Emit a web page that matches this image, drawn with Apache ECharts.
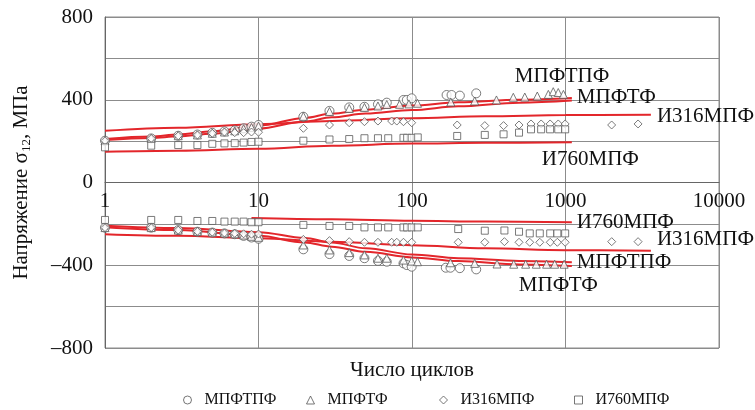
<!DOCTYPE html>
<html>
<head>
<meta charset="utf-8">
<script src="https://cdn.jsdelivr.net/npm/echarts@6/dist/echarts.min.js"></script>
<style>
  html, body { margin: 0; background: #fff; }
  #main { width: 755px; height: 410px; }
</style>
</head>
<body>
<div id="main"></div>
<script>
// [число циклов, σ12 МПа]
var mpftpfPts = [
  [1,202],[2,213],[3,226],[4,232],[5,240],[6,247],[7,252],[8,262],[9,270],[10,278],
  [19.6,318],[29,346],[39,363],[49,366],[60,378],[68.5,386],[88,399],[92.5,399],[99.5,407],
  [168,423],[181,423],[205,420],[262,431],
  [1,-218],[2,-218],[3,-230],[4,-238],[5,-242],[6,-246],[7,-250],[8,-258],[9,-266],[10,-272],
  [19.6,-323],[29,-346],[39,-355],[49,-366],[60,-379],[68.5,-383],[88,-391],[92.5,-399],[99.5,-407],
  [166,-412],[178,-412],[205,-414],[262,-420]
];
var mpftfPts = [
  [1,202],[2,213],[3,226],[4,230],[5,238],[6,244],[7,250],[8,260],[9,266],[10,273],
  [19.6,320],[29,343],[39,358],[49,363],[60,370],[68.5,377],[83,378],[95.5,380],[108.6,383],
  [179,389],[256,394],[355,399],[457,412],[543,413],[655,418],[773,426],[832,439],[897,435],[969,426],
  [1,-218],[2,-218],[3,-230],[4,-236],[5,-240],[6,-244],[7,-248],[8,-254],[9,-260],[10,-265],
  [19.6,-302],[29,-326],[39,-339],[49,-350],[60,-366],[68.5,-366],[88,-375],[99.5,-380],[108.6,-383],
  [178,-388],[256,-391],[358,-394],[460,-395],[550,-395],[645,-395],[753,-395],[850,-395],[980,-395]
];
var i316Pts = [
  [1,202],[2,213],[3,226],[4,230],[5,238],[6,244],[7,241],[8,241],[9,244],[10,243],
  [19.6,262],[29,278],[39,289],[49,294],[60,297],[73.7,297],[79.6,297],[88,294],[99.5,289],
  [197,278],[298,275],[395,275],[498,278],[596,283],[694,283],[794,283],[897,283],[995,283],[1998,278],[2970,283],
  [1,-218],[2,-218],[3,-230],[4,-236],[5,-240],[6,-244],[7,-246],[8,-248],[9,-250],[10,-249],
  [19.6,-275],[29,-281],[39,-286],[49,-289],[60,-289],[73.7,-289],[79.6,-289],[88,-289],[99.5,-289],
  [200,-289],[298,-289],[400,-286],[498,-289],[585,-289],[680,-289],[795,-289],[885,-289],[995,-289],[2000,-286],[2970,-286]
];
var i760Pts = [
  [1,170],[2,178],[3,181],[4,181],[5,187],[6,189],[7,190],[8,193],[9,196],[10,197],
  [19.6,202],[29,208],[39,210],[49,214],[60,214],[70,214],[88,216],[93,216],[99.5,216],[109,218],
  [197,225],[298,230],[395,233],[498,241],[596,257],[694,257],[794,257],[897,257],[995,257],
  [1,-181],[2,-181],[3,-181],[4,-186],[5,-186],[6,-189],[7,-189],[8,-189],[9,-192],[10,-192],
  [19.6,-205],[29,-210],[39,-210],[49,-217],[60,-217],[70,-217],[88,-217],[93,-217],[99.5,-217],[109,-217],
  [200,-225],[298,-233],[400,-232],[498,-238],[585,-246],[680,-246],[795,-246],[885,-246],[995,-246]
];

// аппроксимирующие кривые
var mpftpfFitUp = [[1,210],[2,222],[3,232],[5,248],[10,275],[20,312],[30,333],[50,352],[100,372],[200,388],[500,400],[1100,408]];
var mpftfFitUp = [[1,205],[2,215],[3,223],[5,236],[10,260],[20,295],[30,315],[50,333],[100,350],[200,368],[500,386],[1100,396]];
var i316FitUp = [[1,250],[3,265],[10,282],[30,297],[100,311],[300,320],[1000,326],[3600,328]];
var i760FitUp = [[1,149],[3,154],[10,163],[30,178],[100,188],[300,192],[1100,194]];
var mpftpfFitDown = [[1,-209],[3,-220],[10,-240],[20,-268],[30,-290],[50,-318],[100,-348],[200,-366],[500,-379],[1100,-386]];
var mpftfFitDown = [[1,-216],[3,-230],[10,-258],[20,-290],[30,-310],[50,-335],[100,-362],[200,-380],[500,-396],[1100,-404]];
var i316FitDown = [[1,-250],[3,-258],[10,-270],[30,-287],[100,-303],[300,-318],[1000,-327],[3600,-330]];
var i760FitDown = [[9,-172],[30,-178],[100,-185],[300,-189],[1100,-192]];

var seriesNames = ['МПФТПФ', 'МПФТФ', 'И316МПФ', 'И760МПФ'];
var yTicks = [-800, -400, 0, 400, 800];

var serif = '"Liberation Serif", "Times New Roman", serif';

var chart = echarts.init(document.getElementById('main'));

function pts(name, symbol, size, data) {
  return {
    name: name, type: 'scatter', symbol: symbol, symbolSize: size, data: data, z: 4,
    itemStyle: { color: '#fff', borderColor: '#5a5a5a', borderWidth: 1 }
  };
}

function fit(id, data, text, off) {
  return {
    name: id, type: 'line', data: data, smooth: 0.35, smoothMonotone: 'x', symbol: 'none', silent: true, z: 3,
    lineStyle: { color: '#e3262b', width: 2 },
    endLabel: {
      show: true, formatter: text, offset: off, distance: 8,
      color: '#111', fontFamily: serif, fontSize: 21
    }
  };
}

function legendAt(name, left) {
  return {
    data: [name], left: left, top: 392, itemWidth: 8, itemHeight: 8, padding: 0,
    itemStyle: { color: '#fff', borderColor: '#555', borderWidth: 1 },
    textStyle: { fontFamily: serif, fontSize: 16, color: '#111', padding: [0, 0, 0, 8] }
  };
}

var option = {
  animation: false,
  grid: { left: 105, right: 36, top: 17, bottom: 62, show: true, borderColor: '#8c8c8c', borderWidth: 1, outerBoundsMode: 'none' },
  legend: [
    legendAt(seriesNames[0], 183),
    legendAt(seriesNames[1], 306),
    legendAt(seriesNames[2], 439),
    legendAt(seriesNames[3], 574)
  ],
  xAxis: {
    type: 'log', logBase: 10, min: 1, max: 10000,
    position: 'bottom', offset: -165.5,
    axisLine: { onZero: false, lineStyle: { color: '#666', width: 1 } },
    axisTick: { show: false },
    axisLabel: { margin: 8, color: '#111', fontFamily: serif, fontSize: 21, formatter: function (v) { return String(v); } },
    splitLine: { show: true, lineStyle: { color: '#8c8c8c', width: 1 } }
  },
  yAxis: {
    type: 'value', min: -800, max: 800, interval: 200,
    name: 'Напряжение σ{s|12}, МПа',
    nameLocation: 'middle', nameGap: 72, nameRotate: 90,
    nameTextStyle: {
      color: '#111', fontFamily: serif, fontSize: 21, lineHeight: 24,
      rich: { s: { fontFamily: serif, fontSize: 13, color: '#111', lineHeight: 12, verticalAlign: 'bottom' } }
    },
    axisLine: { show: true, onZero: false, lineStyle: { color: '#666', width: 1 } },
    axisTick: { show: false },
    axisLabel: {
      margin: 12, color: '#111', fontFamily: serif, fontSize: 21,
      formatter: function (v) {
        if (yTicks.indexOf(v) < 0) return '';
        return v < 0 ? '\u2013' + Math.abs(v) : String(v);
      }
    },
    splitLine: { show: true, lineStyle: { color: '#8c8c8c', width: 1 } }
  },
  graphic: [{
    type: 'text', x: 412, y: 370,
    style: { text: 'Число циклов', fill: '#111', font: '21px ' + serif, align: 'center', verticalAlign: 'middle' }
  }],
  series: [
    fit('fit1', mpftpfFitUp, 'МПФТПФ', [-65, -22]),
    fit('fit2', mpftfFitUp, 'МПФТФ', [-3, -3]),
    fit('fit3', i316FitUp, 'И316МПФ', [-2, 2]),
    fit('fit4', i760FitUp, 'И760МПФ', [-38, 17]),
    fit('fit5', mpftpfFitDown, 'МПФТПФ', [-3, 0]),
    fit('fit6', mpftfFitDown, 'МПФТФ', [-61, 19]),
    fit('fit7', i316FitDown, 'И316МПФ', [-2, -11]),
    fit('fit8', i760FitDown, 'И760МПФ', [-3, 0]),
    pts(seriesNames[0], 'circle', 9, mpftpfPts),
    pts(seriesNames[1], 'triangle', 8, mpftfPts),
    pts(seriesNames[2], 'diamond', 8, i316Pts),
    pts(seriesNames[3], 'rect', 7, i760Pts)
  ]
};

chart.setOption(option);
</script>
</body>
</html>
